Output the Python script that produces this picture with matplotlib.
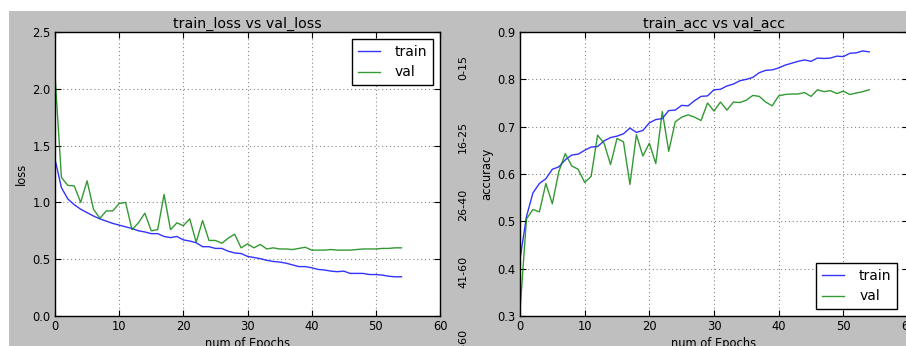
import matplotlib
matplotlib.use("Agg")
import matplotlib.pyplot as plt
from matplotlib.patches import Rectangle

epochs = list(range(55))

train_loss = [1.38, 1.13, 1.03, 0.98, 0.94, 0.91, 0.88, 0.855, 0.835, 0.815,
              0.80, 0.785, 0.77, 0.75, 0.74, 0.725, 0.725, 0.70, 0.69, 0.70,
              0.67, 0.66, 0.645, 0.61, 0.61, 0.595, 0.595, 0.57, 0.555, 0.55,
              0.525, 0.515, 0.505, 0.49, 0.48, 0.475, 0.465, 0.45, 0.435, 0.435,
              0.425, 0.41, 0.405, 0.395, 0.39, 0.395, 0.375, 0.375, 0.375, 0.365,
              0.365, 0.36, 0.35, 0.345, 0.345]
val_loss = [2.12, 1.22, 1.15, 1.145, 1.0, 1.19, 0.94, 0.86, 0.925, 0.925,
            0.99, 1.0, 0.76, 0.82, 0.905, 0.75, 0.76, 1.07, 0.76, 0.82,
            0.795, 0.855, 0.65, 0.84, 0.665, 0.665, 0.64, 0.685, 0.72, 0.60,
            0.635, 0.60, 0.63, 0.59, 0.60, 0.59, 0.59, 0.585, 0.595, 0.605,
            0.58, 0.58, 0.58, 0.585, 0.58, 0.58, 0.58, 0.585, 0.59, 0.59,
            0.59, 0.595, 0.595, 0.60, 0.60]
train_acc = [0.42, 0.51, 0.56, 0.58, 0.59, 0.61, 0.615, 0.63, 0.64, 0.642,
             0.65, 0.657, 0.658, 0.67, 0.677, 0.68, 0.685, 0.697, 0.688, 0.692,
             0.708, 0.715, 0.717, 0.734, 0.735, 0.745, 0.744, 0.755, 0.764, 0.765,
             0.778, 0.779, 0.786, 0.79, 0.797, 0.80, 0.804, 0.814, 0.819, 0.82,
             0.824, 0.83, 0.834, 0.838, 0.841, 0.838, 0.845, 0.844, 0.845, 0.849,
             0.848, 0.855, 0.856, 0.86, 0.858]
val_acc = [0.31, 0.505, 0.525, 0.52, 0.58, 0.537, 0.605, 0.643, 0.617, 0.61,
           0.582, 0.595, 0.682, 0.665, 0.62, 0.675, 0.668, 0.578, 0.683, 0.638,
           0.665, 0.622, 0.732, 0.648, 0.71, 0.72, 0.725, 0.72, 0.713, 0.75,
           0.733, 0.752, 0.735, 0.752, 0.751, 0.756, 0.766, 0.764, 0.752, 0.744,
           0.765, 0.768, 0.769, 0.769, 0.772, 0.764, 0.778, 0.774, 0.776, 0.77,
           0.775, 0.768, 0.771, 0.774, 0.778]

side_labels = ["0-15", "16-25", "26-40", "41-60", "41-60"]

W, H = 906, 346
fig = plt.figure(figsize=(W / 100, H / 100), dpi=100, facecolor="white")
fig.patches.append(Rectangle((9 / W, 0), 1, (H - 11) / H, transform=fig.transFigure,
                             facecolor="#bfbfbf", edgecolor="none", zorder=-10))

def style_axes(ax):
    ax.set_facecolor("white")
    ax.grid(True, color="#888888", linestyle=(0, (1, 2.5)), linewidth=0.8)
    ax.tick_params(direction="in", labelsize=8.3, top=True, right=True, length=4, pad=3,
                   colors="black")
    for s in ax.spines.values():
        s.set_linewidth(1.0)

def add_legend(ax, loc, anchor):
    leg = ax.legend(loc=loc, fontsize=10, handlelength=1.6, handletextpad=1.1,
                    fancybox=False, borderaxespad=0.5, framealpha=1,
                    bbox_to_anchor=anchor)
    leg.get_frame().set_edgecolor("black")
    return leg

ax1 = fig.add_axes([55 / W, 30 / H, 385 / W, 284 / H])
ax1.plot(epochs, train_loss, color="#0000ff", lw=1.0, alpha=0.8, label="train")
ax1.plot(epochs, val_loss, color="#008000", lw=1.0, alpha=0.8, label="val")
ax1.set_xlim(0, 60)
ax1.set_ylim(0, 2.5)
ax1.set_xticks(range(0, 61, 10))
ax1.set_yticks([0.0, 0.5, 1.0, 1.5, 2.0, 2.5])
style_axes(ax1)
ax1.set_title("train_loss vs val_loss", fontsize=10.2, pad=3)
ax1.set_xlabel("num of Epochs", fontsize=8.3, labelpad=3)
ax1.set_ylabel("loss", fontsize=8.3, labelpad=3)
add_legend(ax1, "upper right", (1.0, 1.0))

ax2 = fig.add_axes([520 / W, 30 / H, 388 / W, 284 / H])
ax2.plot(epochs, train_acc, color="#0000ff", lw=1.0, alpha=0.8, label="train")
ax2.plot(epochs, val_acc, color="#008000", lw=1.0, alpha=0.8, label="val")
ax2.set_xlim(0, 60)
ax2.set_ylim(0.3, 0.9)
ax2.set_xticks(range(0, 61, 10))
ax2.set_yticks([0.3, 0.4, 0.5, 0.6, 0.7, 0.8, 0.9])
style_axes(ax2)
ax2.set_title("train_acc vs val_acc", fontsize=10.2, pad=3)
ax2.set_xlabel("num of Epochs", fontsize=8.3, labelpad=3)
ax2.set_ylabel("accuracy", fontsize=8.3, labelpad=3)
add_legend(ax2, "lower right", (0.99, 0.0))

side_y = [67, 137, 205, 272, 345]
for lab, yy in zip(side_labels, side_y):
    fig.text(463 / W, 1 - yy / H, lab, rotation=90, fontsize=8, ha="center", va="center")

fig.savefig("out.png", dpi=100, facecolor="white")
